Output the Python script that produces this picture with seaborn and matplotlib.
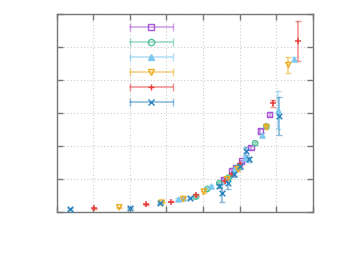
import numpy as np
import pandas as pd
import matplotlib
matplotlib.use("Agg")
import matplotlib.pyplot as plt
import seaborn as sns
from matplotlib.lines import Line2D
from matplotlib.legend_handler import HandlerLine2D, HandlerTuple

# -----------------------------
# Data
# -----------------------------
sq_x = [4.55, 4.78, 4.90, 5.05, 5.31, 5.56, 5.82]
sq_y = [1.00, 1.26, 1.35, 1.55, 1.96, 2.46, 2.97]
sq_e = [0.04, 0.04, 0.04, 0.04, 0.05, 0.05, 0.06]

ci_x = [3.80, 4.11, 4.44, 4.70, 4.95, 5.42, 5.73]
ci_y = [0.47, 0.70, 0.88, 1.05, 1.35, 2.09, 2.60]
ci_e = [0.03, 0.03, 0.04, 0.04, 0.04, 0.05, 0.05]

tu_x = [3.32, 3.45, 4.23, 4.60, 4.85, 5.15, 5.60, 6.04, 6.49]
tu_y = [0.40, 0.42, 0.78, 1.00, 1.30, 1.65, 2.34, 3.10, 4.64]
tu_e = [0.03, 0.03, 0.04, 0.04, 0.05, 0.06, 0.06, 0.58, 0.05]

td_x = [1.71, 2.87, 3.46, 4.02, 4.65, 4.95, 5.73, 6.33]
td_y = [0.15, 0.29, 0.40, 0.62, 1.00, 1.30, 2.58, 4.46]
td_e = [0.02, 0.02, 0.03, 0.03, 0.04, 0.04, 0.05, 0.25]

pl_x = [1.03, 2.43, 3.13, 3.82, 4.60, 4.80, 5.00, 5.92, 6.60]
pl_y = [0.12, 0.24, 0.32, 0.52, 0.95, 1.15, 1.45, 3.30, 5.19]
pl_e = [0.02, 0.02, 0.02, 0.03, 0.04, 0.04, 0.05, 0.10, 0.60]

xx_x = [0.36, 2.00, 2.83, 3.63, 4.44, 4.52, 4.69, 4.84, 5.00, 5.17, 5.26, 6.07]
xx_y = [0.10, 0.14, 0.27, 0.44, 0.78, 0.58, 0.88, 1.15, 1.40, 1.84, 1.60, 2.92]
xx_e = [0.02, 0.02, 0.02, 0.03, 0.06, 0.26, 0.18, 0.08, 0.08, 0.12, 0.08, 0.58]

series = [
    ("s", "#a855d8", sq_x, sq_y, sq_e, "none"),
    ("o", "#4fbf95", ci_x, ci_y, ci_e, "none"),
    ("^", "#7cc8f0", tu_x, tu_y, tu_e, "fill"),
    ("v", "#eeac20", td_x, td_y, td_e, "none"),
    ("+", "#e8403a", pl_x, pl_y, pl_e, "none"),
    ("x", "#2e86c1", xx_x, xx_y, xx_e, "none"),
]

# -----------------------------
# Plot
# -----------------------------
sns.set_style("white")
fig = plt.figure(figsize=(3.39, 2.61), dpi=100)
ax = fig.add_axes([0.167, 0.187, 0.756, 0.759])

handles = []
hmap = {}
for marker, color, xs, ys, es, fill in series:
    df = pd.DataFrame({"x": xs, "y": ys})
    ax.errorbar(xs, ys, yerr=es, fmt="none", ecolor=color, alpha=0.55,
                elinewidth=1.2, capsize=2, capthick=1)
    if marker in ("+", "x"):
        sns.scatterplot(data=df, x="x", y="y", marker=marker, color=color,
                        s=16, linewidth=1.1, ax=ax, zorder=3)
    elif fill == "fill":
        sns.scatterplot(data=df, x="x", y="y", marker=marker, color=color,
                        s=14, edgecolor=color, linewidth=0.8, ax=ax, zorder=3)
    else:
        sns.scatterplot(data=df, x="x", y="y", marker=marker, s=14,
                        facecolor="none", edgecolor=color, linewidth=1.0,
                        ax=ax, zorder=3)
    bar = Line2D([], [], color=color, alpha=0.55, lw=1.2, marker="|",
                 markersize=6)
    mk = Line2D([], [], color=color, lw=0, marker=marker, markersize=4.5,
                markerfacecolor=color if fill == "fill" else "none",
                markeredgewidth=1.0)
    hmap[bar] = HandlerLine2D(numpoints=2)
    hmap[mk] = HandlerLine2D(numpoints=1)
    handles.append((bar, mk))

ax.set_xlim(0, 7)
ax.set_ylim(0, 6)
ax.set_xticks(range(0, 8))
ax.set_yticks(range(0, 7))
ax.set_xticklabels([])
ax.set_yticklabels([])
ax.set_xlabel("")
ax.set_ylabel("")
ax.grid(True, color="#cccccc", linestyle=(0, (1, 2)), linewidth=0.8)
ax.tick_params(direction="in", length=4, width=1, color="#777777",
               top=True, right=True, bottom=True, left=True)
for sp in ax.spines.values():
    sp.set_color("#777777")
    sp.set_linewidth(1)

hmap[tuple] = HandlerTuple(ndivide=1, pad=0)
leg = ax.legend(handles, [""] * 6, handler_map=hmap, loc="upper left",
                bbox_to_anchor=(0.243, 0.995), frameon=False,
                handlelength=4.45, labelspacing=0.45, handletextpad=0,
                fontsize=8, borderpad=0.2)

fig.savefig("out.png", dpi=100)
